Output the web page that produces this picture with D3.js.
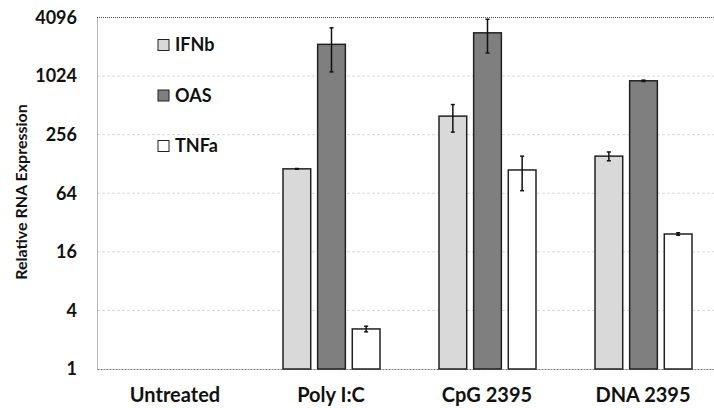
<!DOCTYPE html>
<html>
<head>
<meta charset="utf-8">
<script src="https://cdn.jsdelivr.net/npm/d3@7"></script>
<style>
  html, body { margin: 0; padding: 0; background: #fff; }
  svg { display: block; font-family: Lato, "Open Sans", sans-serif; font-weight: 700; }
</style>
</head>
<body>
<div id="grafico"></div>
<script>
// datos
const categorias = ["Untreated", "Poly I:C", "CpG 2395", "DNA 2395"];
const series = ["IFNb", "OAS", "TNFa"];
const valIFNb = [1, 114, 397, 154];
const valOAS = [1, 2170, 2850, 916];
const valTNFa = [1, 2.58, 111, 24.4];
const errIFNb = [0, 1, 125, 16];
const errOAS = [0, 1040, 1080, 15];
const errTNFa = [0, 0.17, 43, 0.7];
const ticksY = [1, 4, 16, 64, 256, 1024, 4096];

const valores = [valIFNb, valOAS, valTNFa];
const errores = [errIFNb, errOAS, errTNFa];
const colores = ["#d9d9d9", "#7f7f7f", "#ffffff"];

const width = 714;
const height = 408;
const marginLeft = 97;
const marginTop = 17.5;
const baseY = 369;

const svg = d3.select("#grafico")
  .append("svg")
  .attr("width", width)
  .attr("height", height);

const xScale = d3.scaleBand()
  .domain(categorias)
  .range([marginLeft, marginLeft + 156 * categorias.length]);

const xSerie = d3.scaleBand()
  .domain(series)
  .range([30, 127])
  .paddingInner(0.2);

const yScale = d3.scaleLog()
  .base(2)
  .domain([1, 4096])
  .range([baseY, marginTop]);

// grilla
svg.append("g")
  .selectAll("line")
  .data(ticksY.slice(1, -1))
  .join("line")
  .attr("x1", marginLeft)
  .attr("x2", width)
  .attr("y1", d => yScale(d))
  .attr("y2", d => yScale(d))
  .attr("stroke", "#d8d8d8")
  .attr("stroke-width", 1)
  .attr("stroke-dasharray", "3,2");

// borde superior
svg.append("line")
  .attr("x1", marginLeft).attr("x2", width)
  .attr("y1", yScale(4096)).attr("y2", yScale(4096))
  .attr("stroke", "#555").attr("stroke-width", 1)
  .attr("stroke-dasharray", "1,1");

// eje y
const yAxis = d3.axisLeft(yScale)
  .tickValues(ticksY)
  .tickFormat(d3.format("d"))
  .tickSize(0)
  .tickPadding(20);

const gy = svg.append("g")
  .attr("transform", `translate(${marginLeft},0)`)
  .call(yAxis);
gy.select(".domain").attr("stroke", "#777").attr("stroke-dasharray", "1,1");
gy.selectAll("text")
  .attr("font-size", 18)
  .attr("font-family", "Lato, sans-serif")
  .attr("font-weight", 700)
  .attr("fill", "#111");

// eje x
const xAxis = d3.axisBottom(xScale).tickSize(0).tickPadding(19);
const gx = svg.append("g")
  .attr("transform", `translate(0,${baseY})`)
  .call(xAxis);
gx.select(".domain").attr("stroke", "#777").attr("stroke-dasharray", "2,1");
gx.selectAll("text")
  .attr("font-size", 20)
  .attr("font-family", "Lato, sans-serif")
  .attr("font-weight", 700)
  .attr("fill", "#111");

// barras
series.forEach((s, k) => {
  const g = svg.append("g");
  g.selectAll("rect")
    .data(valores[k])
    .join("rect")
    .attr("x", (d, i) => xScale(categorias[i]) + xSerie(s))
    .attr("y", d => yScale(d))
    .attr("width", xSerie.bandwidth())
    .attr("height", d => baseY - yScale(d))
    .attr("fill", colores[k])
    .attr("stroke", d => d > 1 ? "#222" : "none")
    .attr("stroke-width", 1.5);

  // barras de error
  const eb = svg.append("g").attr("stroke", "#111").attr("stroke-width", 1.5);
  valores[k].forEach((d, i) => {
    if (d <= 1) return;
    const cx = xScale(categorias[i]) + xSerie(s) + xSerie.bandwidth() / 2;
    const y1 = yScale(d + errores[k][i]);
    const y2 = yScale(Math.max(d - errores[k][i], 1));
    eb.append("line").attr("x1", cx).attr("x2", cx).attr("y1", y1).attr("y2", y2);
    eb.append("line").attr("x1", cx - 2).attr("x2", cx + 2).attr("y1", y1).attr("y2", y1);
    eb.append("line").attr("x1", cx - 2).attr("x2", cx + 2).attr("y1", y2).attr("y2", y2);
  });
});

// leyenda
const leyenda = svg.append("g")
  .selectAll("g")
  .data(series)
  .join("g")
  .attr("transform", (d, i) => `translate(158,${45 + i * 50.5})`);
leyenda.append("rect")
  .attr("x", 0).attr("y", -5.5)
  .attr("width", 11).attr("height", 11)
  .attr("fill", (d, i) => colores[i])
  .attr("stroke", "#222").attr("stroke-width", 1);
leyenda.append("text")
  .attr("x", 17).attr("y", 0)
  .attr("dy", "0.36em")
  .attr("font-size", 18)
  .attr("fill", "#111")
  .text(d => d);

// titulo eje y
svg.append("text")
  .attr("transform", `translate(27,${192}) rotate(-90)`)
  .attr("text-anchor", "middle")
  .attr("font-size", 16)
  .attr("fill", "#111")
  .text("Relative RNA Expression");
</script>
</body>
</html>
